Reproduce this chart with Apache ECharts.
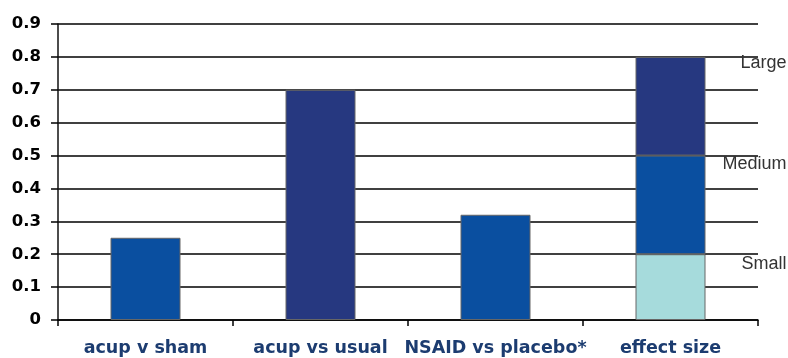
<!DOCTYPE html>
<html><head><meta charset="utf-8">
<script src="https://cdn.jsdelivr.net/npm/echarts@6/dist/echarts.min.js"></script>
<style>html,body{margin:0;padding:0;background:#fff}#c{width:788px;height:358px}</style>
</head><body><div id="c"></div>
<script>
const categories = ['acup v sham', 'acup vs usual', 'NSAID vs placebo*', 'effect size'];
const studyValues = [0.25, 0.7, 0.32, null];
const smallValues = [null, null, null, 0.2];
const mediumValues = [null, null, null, 0.3];
const largeValues = [null, null, null, 0.3];
const yTicks = [0, 0.1, 0.2, 0.3, 0.4, 0.5, 0.6, 0.7, 0.8, 0.9];

const navy = '#263880', blue = '#0a4fa0', teal = '#a6dbdc';
const studyColors = [blue, navy, blue, blue];
const border = {borderColor: '#666', borderWidth: 1};
const sideLabel = (txt, dy) => ({
  show: true, position: ['100%', 0], offset: [81, dy], align: 'right', verticalAlign: 'top',
  formatter: txt, color: '#333', fontSize: 18, fontFamily: 'Liberation Sans'
});

const chart = echarts.init(document.getElementById('c'));
chart.setOption({
  animation: false,
  grid: {left: 58, right: 30, top: 24, bottom: 38, containLabel: false},
  xAxis: {
    type: 'category', data: categories, boundaryGap: true,
    axisLine: {lineStyle: {color: '#000', width: 1.5}},
    axisTick: {show: true, length: 6, lineStyle: {color: '#000', width: 1.5}},
    axisLabel: {color: '#1c3c70', fontWeight: 'bold', fontSize: 17.5, fontFamily: 'DejaVu Sans', margin: 19, interval: 0}
  },
  yAxis: {
    type: 'value', min: yTicks[0], max: yTicks[yTicks.length - 1], interval: 0.1,
    axisLine: {show: true, onZero: false, lineStyle: {color: '#111', width: 1.5}},
    axisTick: {show: true, length: 7, lineStyle: {color: '#000', width: 1.5}},
    splitLine: {lineStyle: {color: '#000', width: 1.5}},
    axisLabel: {color: '#000', fontWeight: 'bold', fontSize: 16.5, fontFamily: 'DejaVu Sans', margin: 17,
      formatter: v => String(Math.round(v * 10) / 10)}
  },
  series: [
    {type: 'bar', stack: 's', barWidth: '40%', data: studyValues.map((v, i) => ({value: v, itemStyle: {color: studyColors[i], ...border}}))},
    {type: 'bar', stack: 's', barWidth: '40%', data: smallValues, itemStyle: {color: teal, ...border}, label: sideLabel('Small', 1)},
    {type: 'bar', stack: 's', barWidth: '40%', data: mediumValues, itemStyle: {color: blue, ...border}, label: sideLabel('Medium', -1)},
    {type: 'bar', stack: 's', barWidth: '40%', data: largeValues, itemStyle: {color: navy, ...border}, label: sideLabel('Large', -3)}
  ]
});
</script></body></html>
